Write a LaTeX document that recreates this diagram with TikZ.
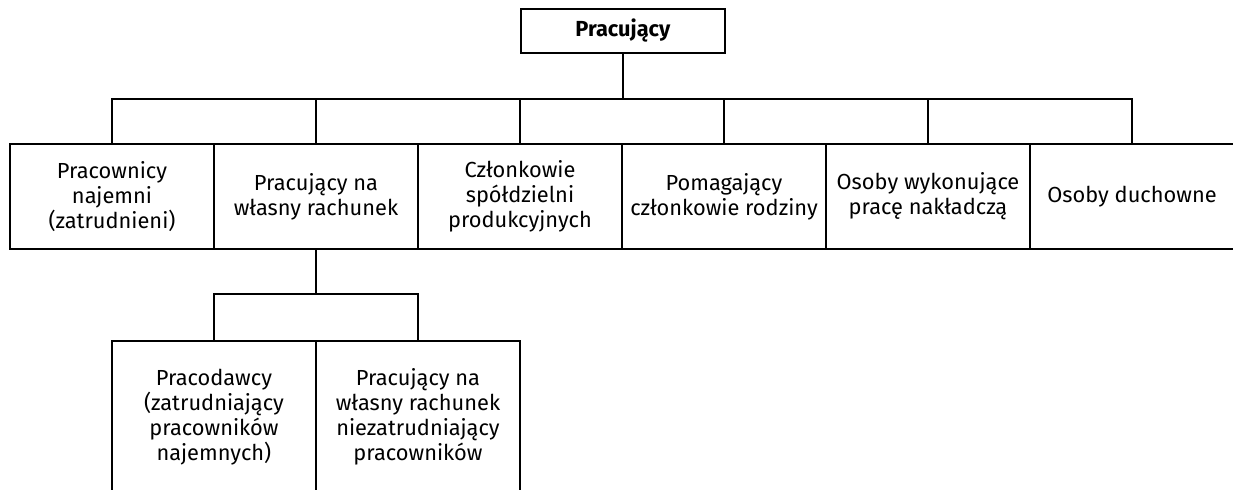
\documentclass[tikz,border=0pt]{standalone}
\usepackage{fontspec}
\setmainfont{Fira Sans}
\usetikzlibrary{positioning}
\tikzset{
    box/.style={
           rectangle,
           draw=black, line width=1pt,
           outer sep=0pt, inner sep=2pt,
           minimum width=102pt, minimum height=52.5pt,
           align=center,
           font=\fontsize{10.9}{12.5}\selectfont,
           },
}
\tikzset{
    link/.style={
           draw=black, line width=1pt,
           },
}

\begin{document}
\begin{tikzpicture}[x=0.5pt,y=-0.5pt,node distance=0pt]
\useasboundingbox (0,0) rectangle (1233,490);
\node[box,minimum height=22pt](top) at (623,31){\textbf{Pracujący}};
\node[box](1) at (112,196.5){Pracownicy\\najemni\\(zatrudnieni)};
\node[box,right=of 1](2){Pracujący na\\własny rachunek};
\node[box,right=of 2](3){Członkowie\\spółdzielni\\produkcyjnych};
\node[box,right=of 3](4){Pomagający\\członkowie rodziny};
\node[box,right=of 4](5){Osoby wykonujące\\pracę nakładczą};
\node[box,right=of 5](6){Osoby duchowne};
\node[box,minimum height=76pt](7) at (214,417){Pracodawcy\\(zatrudniający\\pracowników\\najemnych)};
\node[box,minimum height=76pt,right=of 7](8){Pracujący na\\własny rachunek\\niezatrudniający\\pracowników};
% szyny
\coordinate (bus) at (0,99);
\coordinate (sub) at (0,294);
\draw[link] (top.south) -- (top.south |- bus);
\draw[link] (1.north) -- (1.north |- bus) -- (6.north |- bus) -- (6.north);
\foreach \i in {2,...,5}
  \draw[link] (\i.north) -- (\i.north |- bus);
\draw[link] (2.south) -- (2.south |- sub);
\draw[link] (7.north) -- (7.north |- sub) -- (8.north |- sub) -- (8.north);
\end{tikzpicture}
\end{document}
